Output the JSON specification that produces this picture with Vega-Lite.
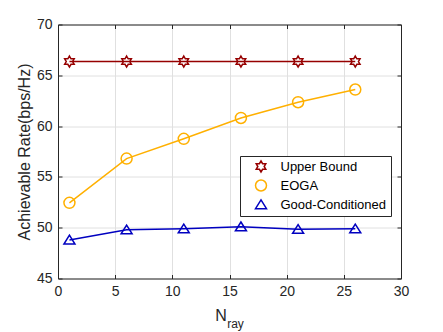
{
  "$schema": "https://vega.github.io/schema/vega-lite/v6.json",
  "width": 343,
  "height": 254,
  "autosize": "none",
  "padding": {"left": 58, "top": 24.5, "right": 42, "bottom": 53.5},
  "background": "white",
  "data": {
    "values": [
      {"n": 1, "rate": 66.35, "series": "Upper Bound"},
      {"n": 6, "rate": 66.35, "series": "Upper Bound"},
      {"n": 11, "rate": 66.35, "series": "Upper Bound"},
      {"n": 16, "rate": 66.35, "series": "Upper Bound"},
      {"n": 21, "rate": 66.35, "series": "Upper Bound"},
      {"n": 26, "rate": 66.35, "series": "Upper Bound"},
      {"n": 1, "rate": 52.45, "series": "EOGA"},
      {"n": 6, "rate": 56.8, "series": "EOGA"},
      {"n": 11, "rate": 58.75, "series": "EOGA"},
      {"n": 16, "rate": 60.8, "series": "EOGA"},
      {"n": 21, "rate": 62.35, "series": "EOGA"},
      {"n": 26, "rate": 63.6, "series": "EOGA"},
      {"n": 1, "rate": 48.8, "series": "Good-Conditioned"},
      {"n": 6, "rate": 49.8, "series": "Good-Conditioned"},
      {"n": 11, "rate": 49.9, "series": "Good-Conditioned"},
      {"n": 16, "rate": 50.1, "series": "Good-Conditioned"},
      {"n": 21, "rate": 49.85, "series": "Good-Conditioned"},
      {"n": 26, "rate": 49.9, "series": "Good-Conditioned"}
    ]
  },
  "resolve": {"axis": {"x": "independent", "y": "independent"}},
  "layer": [
    {
      "mark": {"type": "line", "strokeWidth": 1.5},
      "encoding": {
        "x": {
          "field": "n", "type": "quantitative",
          "scale": {"domain": [0, 30], "nice": false},
          "axis": {
            "orient": "bottom", "values": [0, 5, 10, 15, 20, 25, 30],
            "grid": true, "gridColor": "#e0e0e0", "gridOpacity": 1, "gridWidth": 1,
            "tickSize": -4, "labelPadding": 10, "labelFlush": false,
            "title": "N", "titleFontSize": 16, "titleFontWeight": "normal",
            "titleX": 162.5, "titleY": 41.6, "titleBaseline": "alphabetic", "titleAlign": "center"
          }
        },
        "y": {
          "field": "rate", "type": "quantitative",
          "scale": {"domain": [45, 70], "nice": false, "zero": false},
          "axis": {
            "orient": "left", "values": [45, 50, 55, 60, 65, 70],
            "grid": true, "gridColor": "#e0e0e0", "gridOpacity": 1, "gridWidth": 1,
            "tickSize": -4, "labelPadding": 10, "labelFlush": false,
            "title": "Achievable Rate(bps/Hz)", "titleFontSize": 16, "titleFontWeight": "normal",
            "titleX": -33.5, "titleY": 127, "titleAngle": 270, "titleAlign": "center", "titleBaseline": "middle"
          }
        },
        "color": {
          "field": "series", "type": "nominal",
          "scale": {"domain": ["Upper Bound", "EOGA", "Good-Conditioned"], "range": ["#960000", "#FFB000", "#0000C0"]}
        },
        "detail": {"field": "series"}
      }
    },
    {
      "mark": {"type": "point", "filled": false, "strokeWidth": 1.5, "size": 121, "opacity": 1},
      "encoding": {
        "x": {
          "field": "n", "type": "quantitative",
          "axis": {
            "orient": "top", "values": [0, 5, 10, 15, 20, 25, 30],
            "labels": false, "grid": false, "tickSize": -4, "title": null
          }
        },
        "y": {
          "field": "rate", "type": "quantitative",
          "axis": {
            "orient": "right", "values": [45, 50, 55, 60, 65, 70],
            "labels": false, "grid": false, "tickSize": -4,
            "title": "ray", "titleFontSize": 12, "titleFontWeight": "normal",
            "titleX": -166, "titleY": 303, "titleAngle": 0, "titleAlign": "center", "titleBaseline": "alphabetic"
          }
        },
        "color": {
          "field": "series", "type": "nominal",
          "legend": {
            "orient": "none", "legendX": 182, "legendY": 131.5,
            "title": null, "padding": 4, "rowPadding": 2,
            "fillColor": "white", "strokeColor": "#262626",
            "labelFontSize": 13, "labelColor": "#000000", "labelFont": "Liberation Sans",
            "symbolSize": 121, "symbolStrokeWidth": 1.5, "symbolOffset": 10.5, "labelOffset": 13,
            "encode": {
              "symbols": {
                "shape": {"value": {"expr": "datum.value === 'Upper Bound' ? 'M-2.9,0L-1.05,0M1.05,0L2.9,0M0,-1L0.289,-0.5L0.866,-0.5L0.577,0L0.866,0.5L0.289,0.5L0,1L-0.289,0.5L-0.866,0.5L-0.577,0L-0.866,-0.5L-0.289,-0.5Z' : datum.value === 'EOGA' ? 'M-2.9,0L-1,0M1,0L2.9,0M1,0A1,1 0 1,1 -1,0A1,1 0 1,1 1,0' : 'M-2.9,0L-0.53,0M0.53,0L2.9,0M0,-0.85L1,0.75L-1,0.75Z'"}},
                "fill": {"value": "transparent"}
              }
            }
          }
        },
        "shape": {
          "field": "series", "type": "nominal",
          "scale": {"domain": ["Upper Bound", "EOGA", "Good-Conditioned"], "range": ["M0,-1L0.289,-0.5L0.866,-0.5L0.577,0L0.866,0.5L0.289,0.5L0,1L-0.289,0.5L-0.866,0.5L-0.577,0L-0.866,-0.5L-0.289,-0.5Z", "circle", "M0,-0.85L1,0.75L-1,0.75Z"]},
          "legend": null
        }
      }
    }
  ],
  "config": {
    "view": {"stroke": null},
    "font": "Liberation Sans",
    "axis": {
      "domainColor": "#262626", "tickColor": "#262626", "labelColor": "#262626", "titleColor": "#262626",
      "labelFont": "Liberation Sans", "titleFont": "Liberation Sans",
      "labelFontSize": 14, "domainWidth": 1, "tickWidth": 1
    }
  }
}
